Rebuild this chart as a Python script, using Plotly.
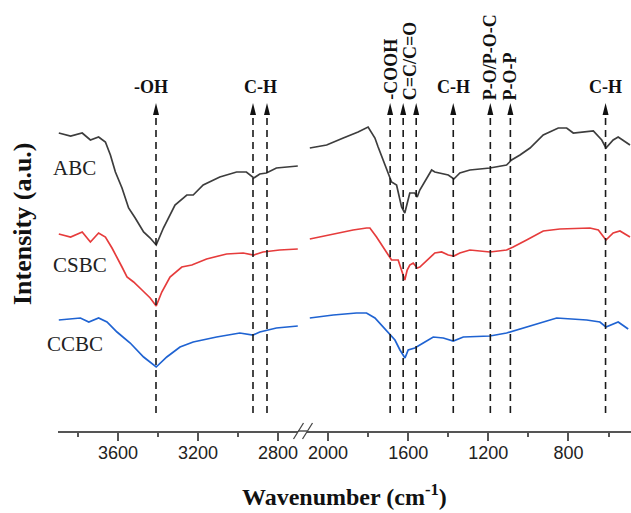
import plotly.graph_objects as go

# ---------------- data ----------------
# Left panel (high wavenumber) -------------------------------------------
abc_left_wn = [3896, 3837, 3779, 3738, 3697, 3663, 3638, 3613, 3580, 3547, 3514, 3472, 3439, 3409,
               3373, 3315, 3256, 3224, 3174, 3091, 3007, 2958, 2921, 2891, 2858, 2808, 2701]
abc_left_int = [298, 295, 298, 291, 294, 289, 276, 259, 243, 223, 213, 199, 193, 186,
                203, 226, 236, 236, 246, 254, 259, 259, 253, 257, 258, 263, 265]

csbc_left_wn = [3896, 3837, 3779, 3738, 3697, 3663, 3630, 3605, 3580, 3555, 3522, 3480, 3439, 3409,
                3381, 3340, 3281, 3231, 3157, 3057, 2974, 2921, 2875, 2792, 2701]
csbc_left_int = [197, 194, 199, 189, 198, 194, 183, 174, 164, 154, 149, 141, 133, 125,
                 139, 154, 164, 166, 172, 177, 178, 176, 179, 181, 182]

ccbc_left_wn = [3896, 3788, 3746, 3697, 3655, 3605, 3539, 3472, 3409, 3356, 3290, 3224, 3107,
                2991, 2925, 2891, 2808, 2701]
ccbc_left_int = [111, 113, 109, 113, 109, 99, 88, 74, 64, 74, 84, 89, 94,
                 98, 96, 99, 103, 105]

# Right panel (low wavenumber) -------------------------------------------
abc_right_wn = [2091, 2007, 1924, 1850, 1800, 1766, 1750, 1725, 1700, 1683, 1658, 1645, 1633, 1617,
                1605, 1592, 1567, 1555, 1542, 1517, 1483, 1467, 1442, 1400, 1372, 1342, 1292, 1192,
                1109, 1084, 1042, 992, 926, 851, 809, 776, 676, 634, 613, 577, 552, 518, 493]
abc_right_int = [283, 286, 293, 299, 304, 293, 284, 271, 258, 249, 246, 234, 224, 218,
                 228, 238, 238, 234, 241, 249, 261, 259, 258, 256, 252, 258, 261, 263,
                 266, 271, 276, 283, 296, 303, 303, 298, 300, 291, 283, 291, 294, 289, 286]

csbc_right_wn = [2091, 1974, 1875, 1808, 1791, 1758, 1725, 1700, 1683, 1650, 1633, 1625, 1617, 1605,
                 1592, 1575, 1555, 1542, 1517, 1492, 1467, 1433, 1400, 1372, 1342, 1292, 1192, 1109,
                 1076, 1009, 926, 843, 693, 651, 613, 577, 543, 493]
csbc_right_int = [192, 197, 201, 203, 203, 194, 184, 176, 171, 171, 161, 156, 151, 161,
                  166, 168, 163, 164, 169, 174, 178, 179, 176, 175, 178, 181, 179, 181,
                  184, 191, 200, 202, 203, 201, 191, 198, 200, 194]

ccbc_right_wn = [2091, 1974, 1858, 1808, 1766, 1725, 1691, 1666, 1641, 1616, 1600, 1567, 1525, 1475,
                 1425, 1375, 1325, 1192, 1109, 1059, 976, 859, 709, 643, 613, 552, 502]
ccbc_right_int = [113, 116, 118, 118, 113, 104, 96, 91, 81, 73, 81, 83, 88, 94,
                  93, 90, 94, 95, 98, 101, 106, 113, 111, 109, 104, 109, 102]

# Band assignments --------------------------------------------------------
peaks_left = [3410, 2925, 2855]
peaks_right = [1690, 1625, 1560, 1375, 1190, 1090, 615]

# (text, peak positions it refers to, axis, rotated)
band_labels = [
    ("-OH", [3410], "x", False),
    ("C-H", [2925, 2855], "x", False),
    ("-COOH", [1690], "x2", True),
    ("C=C/C=O", [1625, 1560], "x2", True),
    ("C-H", [1375], "x2", False),
    ("P-O/P-O-C", [1190], "x2", True),
    ("P-O-P", [1090], "x2", True),
    ("C-H", [615], "x2", False),
]

sample_names = ["ABC", "CSBC", "CCBC"]
sample_colors = ["#3d3d3d", "#e63c3c", "#1f63d2"]
sample_label_wn = [3818, 3788, 3813]
sample_label_int = [263, 166, 87]

left_ticks = [3600, 3200, 2800]
right_ticks = [2000, 1600, 1200, 800]

# ---------------- geometry ----------------
W, H = 631, 513
ML, MR, MT, MB = 58, 0, 0, 82
PW = W - ML - MR
PH = H - MT - MB
x1_dom = [0, 240 / PW]
x2_dom = [249 / PW, 1]
Y_RANGE = [0, 431]
LINE_BOTTOM, LINE_TOP, ARROW_TIP = 18, 315, 328

fig = go.Figure()

series = [
    (abc_left_wn, abc_left_int, abc_right_wn, abc_right_int),
    (csbc_left_wn, csbc_left_int, csbc_right_wn, csbc_right_int),
    (ccbc_left_wn, ccbc_left_int, ccbc_right_wn, ccbc_right_int),
]
for (lw, li, rw, ri), name, col in zip(series, sample_names, sample_colors):
    fig.add_trace(go.Scatter(x=lw, y=li, mode="lines", line=dict(color=col, width=1.7),
                             xaxis="x", yaxis="y", name=name, showlegend=False))
    fig.add_trace(go.Scatter(x=rw, y=ri, mode="lines", line=dict(color=col, width=1.7),
                             xaxis="x2", yaxis="y", name=name, showlegend=False))

# dashed guide lines + arrow heads
for peaks, xr in ((peaks_left, "x"), (peaks_right, "x2")):
    for p in peaks:
        fig.add_shape(type="line", xref=xr, yref="y", x0=p, x1=p, y0=LINE_BOTTOM, y1=LINE_TOP,
                      line=dict(color="#1a1a1a", width=1.6, dash="7px,5px"))
        fig.add_shape(type="path", xref=xr, yref="y", xsizemode="pixel", ysizemode="pixel",
                      xanchor=p, yanchor=ARROW_TIP, path="M0,0 L-3,-12 L3,-12 Z",
                      fillcolor="#111", line=dict(width=0))

# band labels
for text, pks, xr, rot in band_labels:
    xc = sum(pks) / len(pks)
    if rot:
        fig.add_annotation(x=xc, y=ARROW_TIP + 1, xref=xr, yref="y", text="<b>%s</b>" % text,
                           textangle=-90, showarrow=False, xanchor="center", yanchor="bottom",
                           font=dict(family="Liberation Serif", size=18, color="#111"))
    else:
        fig.add_annotation(x=xc, y=344, xref=xr, yref="y", text="<b>%s</b>" % text,
                           showarrow=False, xanchor="center", yanchor="middle",
                           xshift=-5 if text == "-OH" else 0,
                           font=dict(family="Liberation Serif", size=18, color="#111"))

# sample names
for name, wx, wy in zip(sample_names, sample_label_wn, sample_label_int):
    fig.add_annotation(x=wx, y=wy, xref="x", yref="y", text=name, showarrow=False,
                       xanchor="center", yanchor="middle",
                       font=dict(family="Liberation Serif", size=21, color="#222"))

# axis titles
fig.add_annotation(x=(22 - ML) / PW, y=(431 - 224) / PH, xref="paper", yref="paper",
                   text="<b>Intensity (a.u.)</b>", textangle=-90, showarrow=False,
                   xanchor="center", yanchor="middle",
                   font=dict(family="Liberation Serif", size=26, color="#111"))
fig.add_annotation(x=(344 - ML) / PW, y=(431 - 495) / PH, xref="paper", yref="paper",
                   text="<b>Wavenumber (cm<sup>-1</sup>)</b>", showarrow=False,
                   xanchor="center", yanchor="middle",
                   font=dict(family="Liberation Serif", size=24, color="#111"))

# axis break bridge and marks
fig.add_shape(type="line", xref="paper", yref="paper", x0=x1_dom[1], x1=x2_dom[0], y0=0, y1=0,
              line=dict(color="#555", width=1.5))
for xb in (x1_dom[1], x2_dom[0]):
    fig.add_shape(type="line", xref="paper", yref="paper", xsizemode="pixel", ysizemode="pixel",
                  xanchor=xb, yanchor=0, x0=-4.5, x1=5.5, y0=-8, y1=8,
                  line=dict(color="#444", width=1.3))

axis_common = dict(showline=True, linecolor="#555", linewidth=1.5, ticks="outside", ticklen=8,
                   tickwidth=1.5, tickcolor="#555", showgrid=False, zeroline=False,
                   tickfont=dict(family="Liberation Sans", size=18, color="#222"),
                   ticklabelstandoff=-3,
                   minor=dict(ticks="outside", ticklen=4, tickwidth=1.5, tickcolor="#555",
                              dtick=200, tick0=0, showgrid=False))

fig.update_layout(
    width=W, height=H, margin=dict(l=ML, r=MR, t=MT, b=MB),
    paper_bgcolor="white", plot_bgcolor="white", showlegend=False,
    xaxis=dict(domain=x1_dom, range=[3900, 2700], anchor="y", tickvals=left_ticks, **axis_common),
    xaxis2=dict(domain=x2_dom, range=[2105, 488], anchor="y", tickvals=right_ticks, **axis_common),
    yaxis=dict(range=Y_RANGE, visible=False),
)

fig.write_html("out.html")
